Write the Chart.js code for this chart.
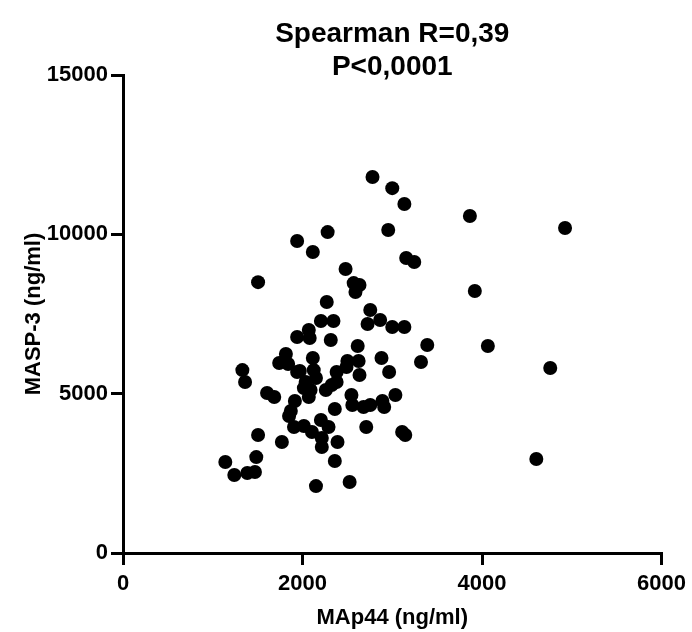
<!DOCTYPE html>
<html lang="en">
<head>
    <meta charset="UTF-8">
    <title>MAp44 vs MASP-3</title>
    <script src="https://cdn.jsdelivr.net/npm/chart.js"></script>
    <style>
        body { margin: 0; background: #fff; }
    </style>
</head>
<body>
    <canvas id="scatterChart" width="692" height="632"></canvas>

    <script>
        const titleLines = ['Spearman R=0,39', 'P<0,0001'];
        const xTitle = 'MAp44 (ng/ml)';
        const yTitle = 'MASP-3 (ng/ml)';
        const xTicks = [0, 2000, 4000, 6000];
        const yTicks = [0, 5000, 10000, 15000];

        // MAp44 values (ng/ml)
        const map44 = [
            1940, 1505, 1940, 1815, 2780, 3000, 3135, 3865, 2280, 2955,
            2115, 3155, 3245, 2480, 2570, 2635, 2590, 3920, 2270, 2755,
            2205, 2345, 2725, 2865, 3000, 3135, 2070, 2080, 2315, 3390,
            2615, 2115, 1740, 1840, 2500, 2625, 2880, 3320, 1970, 2125,
            2380, 2490, 2635, 2965, 2150, 2035, 2015, 2090, 2070, 2260,
            2325, 2380, 2545, 2555, 2680, 2755, 2890, 2910, 3035, 2360,
            1915, 1870, 1850, 1770, 1905, 2015, 2105, 2205, 2290, 2215,
            2215, 2390, 2360, 2710, 3110, 3145, 2150, 2525, 1330, 1360,
            1940, 1605, 1685, 1505, 1485, 1140, 1240, 1385, 1470, 4925,
            4065, 4760, 4605
        ];
        // MASP-3 values (ng/ml), same order
        const masp3 = [
            9790, 8500, 6780, 6245, 11800, 11450, 10950, 10575, 10070, 10135,
            9445, 9255, 9130, 8910, 8470, 8410, 8190, 8220, 7875, 7625,
            7280, 7280, 7185, 7310, 7090, 7090, 7000, 6745, 6685, 6525,
            6495, 6120, 5960, 5930, 6025, 6025, 6120, 5995, 5710, 5740,
            5680, 5835, 5585, 5680, 5490, 5365, 5175, 5115, 4895, 5115,
            5270, 5365, 4960, 4645, 4580, 4645, 4770, 4580, 4960, 4520,
            4770, 4455, 4300, 3485, 3955, 3985, 3795, 4175, 3955, 3610,
            3325, 3485, 2885, 3955, 3795, 3705, 2100, 2230, 5740, 5365,
            5680, 5020, 4895, 3705, 3010, 2855, 2450, 2510, 2540, 10200,
            6495, 5805, 2950
        ];

        const points = map44.map((x, i) => ({ x: x, y: masp3[i] }));

        const fontFamily = "'Liberation Sans', Arial, sans-serif";

        // draws the two title lines over the plot
        const titlePlugin = {
            id: 'twoLineTitle',
            afterDraw(chart) {
                const ctx = chart.ctx;
                const area = chart.chartArea;
                const cx = (area.left + area.right) / 2;
                ctx.save();
                ctx.fillStyle = '#000';
                ctx.font = 'bold 28px ' + fontFamily;
                ctx.textAlign = 'center';
                ctx.textBaseline = 'alphabetic';
                titleLines.forEach((line, i) => {
                    ctx.fillText(line, cx, 42 + i * 33);
                });
                ctx.restore();
            }
        };

        const ctx = document.getElementById('scatterChart').getContext('2d');

        new Chart(ctx, {
            type: 'scatter',
            data: {
                datasets: [{
                    label: 'MASP-3',
                    data: points,
                    backgroundColor: '#000',
                    borderWidth: 0,
                    pointRadius: 7,
                    pointHoverRadius: 7
                }]
            },
            options: {
                responsive: false,
                animation: false,
                layout: {
                    padding: { top: 75, right: 25, left: 0, bottom: 0 }
                },
                plugins: {
                    legend: { display: false },
                    tooltip: { enabled: false }
                },
                scales: {
                    x: {
                        type: 'linear',
                        min: 0,
                        max: 6000,
                        afterFit: (scale) => { scale.height = 79; },
                        afterBuildTicks: (scale) => { scale.ticks = xTicks.map(v => ({ value: v })); },
                        border: { display: true, color: '#000', width: 3 },
                        grid: { drawOnChartArea: false, drawTicks: true, tickLength: 12, color: '#000', lineWidth: 3 },
                        ticks: {
                            color: '#000',
                            padding: 6,
                            font: { family: fontFamily, size: 22, weight: 'bold' },
                            callback: (v) => String(v)
                        },
                        title: {
                            display: true,
                            text: xTitle,
                            color: '#000',
                            padding: { top: 0, bottom: 1 },
                            font: { family: fontFamily, size: 22, weight: 'bold' }
                        }
                    },
                    y: {
                        type: 'linear',
                        min: 0,
                        max: 15000,
                        afterFit: (scale) => { scale.width = 123; },
                        afterBuildTicks: (scale) => { scale.ticks = yTicks.map(v => ({ value: v })); },
                        border: { display: true, color: '#000', width: 3 },
                        grid: { drawOnChartArea: false, drawTicks: true, tickLength: 12, color: '#000', lineWidth: 3 },
                        ticks: {
                            color: '#000',
                            padding: 3,
                            font: { family: fontFamily, size: 22, weight: 'bold' },
                            callback: (v) => String(v)
                        },
                        title: {
                            display: true,
                            text: yTitle,
                            color: '#000',
                            padding: { top: 21, bottom: 0 },
                            font: { family: fontFamily, size: 22, weight: 'bold' }
                        }
                    }
                }
            },
            plugins: [titlePlugin]
        });
    </script>
</body>
</html>
